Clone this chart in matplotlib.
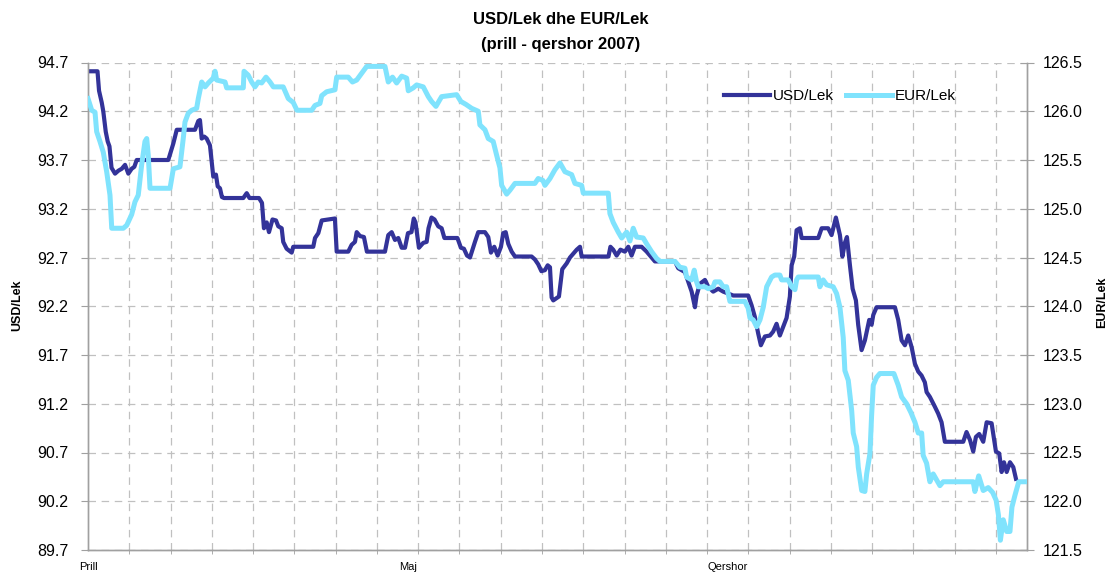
import matplotlib
matplotlib.use("Agg")
import matplotlib.pyplot as plt
from matplotlib.lines import Line2D

plt.rcParams['font.family'] = ['Liberation Sans', 'DejaVu Sans']

# day index (0 = 1 prill, 91 = end of qershor) and rates
usd_day = [0.0, 0.92, 1.07, 1.33, 1.48, 1.72, 1.91, 2.08, 2.28, 2.62, 2.94, 3.27, 3.59, 3.91, 4.23, 4.49, 4.72,
           7.78, 8.27, 8.60, 10.37, 10.69, 10.85, 11.02, 11.27, 11.50, 11.82, 11.99, 12.14, 12.40, 12.57, 12.79,
           12.98, 13.18, 15.05, 15.38, 15.65, 16.57, 16.86, 17.05, 17.32, 17.54, 17.88, 18.22, 18.44, 18.77,
           18.92, 19.25, 19.74, 19.89, 21.83, 22.00, 22.32, 22.65, 23.93, 24.10, 25.22, 25.55, 25.87, 26.04,
           26.36, 26.74, 27.03, 28.78, 29.10, 29.43, 29.75, 30.07, 30.40, 30.72, 31.01, 31.35, 31.57, 31.74,
           32.07, 32.49, 32.82, 33.00, 33.29, 33.58, 33.94, 34.27, 34.54, 35.80, 36.14, 36.43, 36.73, 37.02,
           37.50, 37.82, 38.47, 38.79, 39.05, 39.37, 39.70, 40.02, 40.24, 40.48, 40.73, 41.06, 41.38, 42.99,
           43.31, 43.63, 43.94, 44.28, 44.55, 44.77, 44.93, 45.09, 45.64, 45.96, 46.39, 46.71, 47.03, 47.36,
           47.68, 47.84, 50.44, 50.63, 50.90, 51.23, 51.60, 52.03, 52.36, 52.68, 53.00, 53.65, 54.14, 54.46,
           54.94, 56.88, 57.20, 57.85, 58.17, 58.50, 58.82, 58.98, 59.30, 59.79, 60.11, 60.59, 61.08, 61.56,
           62.05, 62.53, 63.98, 64.31, 64.63, 64.95, 65.21, 65.60, 66.09, 66.40, 66.73, 67.05, 67.37, 67.70,
           68.02, 68.19, 68.44, 68.67, 68.99, 69.16, 70.77, 71.10, 71.73, 72.06, 72.48, 72.87, 73.11, 73.35,
           73.55, 73.84, 74.10, 74.42, 74.64, 74.97, 75.29, 75.71, 75.94, 76.10, 76.42, 78.20, 78.52, 78.85,
           79.17, 79.49, 79.82, 80.14, 80.46, 80.78, 81.10, 81.27, 81.59, 82.07, 82.39, 82.72, 83.04, 84.82,
           85.14, 85.47, 85.79, 86.05, 86.37, 86.76, 87.09, 87.57, 87.99, 88.31, 88.54, 88.77, 89.03, 89.35,
           89.67, 89.93]
usd_lek = [94.61, 94.61, 94.41, 94.29, 94.20, 93.99, 93.89, 93.84, 93.62, 93.56, 93.59, 93.61, 93.65, 93.56,
           93.61, 93.63, 93.70, 93.70, 93.87, 94.01, 94.01, 94.10, 94.11, 93.92, 93.94, 93.92, 93.85, 93.68,
           93.53, 93.55, 93.43, 93.41, 93.32, 93.31, 93.31, 93.36, 93.31, 93.31, 93.26, 93.00, 93.06, 92.96,
           93.09, 93.08, 93.02, 93.00, 92.86, 92.79, 92.75, 92.81, 92.81, 92.90, 92.95, 93.08, 93.10, 92.76,
           92.76, 92.83, 92.86, 92.96, 92.92, 92.91, 92.76, 92.76, 92.93, 92.96, 92.88, 92.90, 92.80, 92.80,
           92.95, 92.96, 93.10, 93.06, 92.80, 92.85, 92.86, 93.00, 93.11, 93.09, 93.02, 93.00, 92.90, 92.90,
           92.80, 92.79, 92.72, 92.70, 92.86, 92.96, 92.96, 92.91, 92.75, 92.81, 92.72, 92.81, 92.95, 92.96,
           92.84, 92.76, 92.71, 92.71, 92.68, 92.63, 92.56, 92.57, 92.62, 92.60, 92.29, 92.26, 92.30, 92.58,
           92.64, 92.70, 92.74, 92.78, 92.81, 92.71, 92.71, 92.81, 92.78, 92.72, 92.78, 92.76, 92.81, 92.72,
           92.81, 92.81, 92.76, 92.72, 92.66, 92.66, 92.59, 92.55, 92.45, 92.35, 92.19, 92.31, 92.43, 92.47,
           92.40, 92.35, 92.38, 92.35, 92.33, 92.31, 92.31, 92.21, 92.09, 91.92, 91.80, 91.89, 91.90, 91.94,
           92.02, 91.90, 91.99, 92.08, 92.30, 92.62, 92.71, 92.98, 93.00, 92.90, 92.90, 93.00, 93.00, 92.93,
           93.11, 92.93, 92.71, 92.85, 92.91, 92.62, 92.38, 92.26, 92.01, 91.75, 91.85, 92.06, 92.01, 92.11,
           92.19, 92.19, 92.06, 91.85, 91.80, 91.90, 91.78, 91.61, 91.53, 91.49, 91.42, 91.32, 91.27, 91.17,
           91.10, 91.01, 90.81, 90.81, 90.91, 90.83, 90.71, 90.86, 90.89, 90.81, 91.01, 91.00, 90.71, 90.69,
           90.50, 90.60, 90.50, 90.60, 90.55, 90.43]

eur_day = [0.0, 0.36, 0.68, 0.84, 1.16, 1.48, 1.81, 2.13, 2.30, 3.42, 3.75, 4.23, 4.55, 4.87, 5.20, 5.52, 5.69,
           5.84, 6.01, 7.95, 8.27, 8.91, 9.23, 9.40, 9.72, 10.05, 10.53, 10.69, 11.02, 11.34, 11.66, 12.14,
           12.31, 12.47, 13.28, 13.44, 15.05, 15.12, 15.53, 15.86, 16.18, 16.50, 16.83, 17.25, 17.64, 17.96,
           18.92, 19.41, 19.89, 20.25, 21.68, 22.00, 22.48, 22.65, 23.13, 23.93, 24.10, 25.22, 25.63, 26.04,
           26.52, 27.01, 28.78, 29.10, 29.51, 29.91, 30.40, 30.88, 31.04, 31.52, 31.85, 32.49, 32.98, 33.30,
           33.72, 34.27, 35.73, 36.14, 36.63, 37.18, 37.82, 37.98, 38.47, 38.79, 39.27, 39.60, 39.92, 40.09,
           40.57, 40.89, 41.38, 43.31, 43.63, 44.09, 44.28, 44.77, 45.25, 45.74, 46.22, 46.87, 47.19, 47.84,
           48.00, 50.42, 50.58, 50.90, 51.39, 51.72, 52.20, 52.52, 52.84, 53.17, 53.81, 54.14, 54.62, 55.11,
           55.43, 56.88, 57.36, 57.85, 58.01, 58.50, 58.75, 58.98, 59.14, 59.79, 60.11, 60.59, 60.76, 61.24,
           61.56, 61.89, 62.21, 63.66, 63.98, 64.15, 64.47, 64.80, 65.12, 65.44, 65.77, 66.25, 66.57, 67.05,
           67.22, 67.86, 68.19, 68.51, 68.67, 68.83, 70.77, 70.93, 71.25, 71.58, 72.22, 72.55, 72.87, 73.19,
           73.35, 73.68, 74.01, 74.16, 74.49, 74.65, 74.98, 75.29, 75.46, 75.78, 75.94, 76.10, 76.42, 76.74,
           78.10, 78.52, 78.85, 79.33, 79.75, 80.14, 80.46, 80.79, 80.94, 81.27, 81.59, 81.91, 82.24, 82.56,
           82.88, 85.79, 85.95, 86.32, 86.76, 87.24, 87.67, 88.01, 88.23, 88.42, 88.70, 89.03, 89.35, 89.54,
           89.83, 90.20, 91.0]
eur_lek = [126.13, 126.01, 125.99, 125.79, 125.69, 125.58, 125.38, 125.14, 124.80, 124.80, 124.83, 124.94,
           125.07, 125.14, 125.45, 125.69, 125.72, 125.55, 125.21, 125.21, 125.41, 125.43, 125.72, 125.89,
           125.98, 126.01, 126.03, 126.13, 126.30, 126.25, 126.29, 126.34, 126.41, 126.32, 126.30, 126.24,
           126.24, 126.41, 126.37, 126.30, 126.25, 126.30, 126.29, 126.35, 126.30, 126.25, 126.25, 126.13,
           126.09, 126.01, 126.01, 126.06, 126.08, 126.16, 126.20, 126.22, 126.35, 126.35, 126.30, 126.32,
           126.39, 126.46, 126.46, 126.30, 126.35, 126.29, 126.36, 126.34, 126.21, 126.24, 126.27, 126.25,
           126.15, 126.10, 126.05, 126.15, 126.17, 126.10, 126.07, 126.03, 126.00, 125.86, 125.81, 125.72,
           125.69, 125.55, 125.42, 125.24, 125.15, 125.19, 125.26, 125.26, 125.31, 125.29, 125.24, 125.31,
           125.40, 125.47, 125.38, 125.35, 125.26, 125.24, 125.16, 125.16, 124.95, 124.86, 124.76, 124.70,
           124.76, 124.67, 124.80, 124.71, 124.70, 124.64, 124.56, 124.49, 124.46, 124.46, 124.40, 124.39,
           124.30, 124.27, 124.37, 124.25, 124.20, 124.20, 124.18, 124.20, 124.25, 124.25, 124.20, 124.20,
           124.05, 124.05, 123.98, 123.88, 123.86, 123.79, 123.86, 123.99, 124.20, 124.30, 124.32, 124.32,
           124.27, 124.27, 124.20, 124.17, 124.27, 124.30, 124.30, 124.20, 124.27, 124.22, 124.20, 124.13,
           123.99, 123.68, 123.34, 123.24, 122.93, 122.70, 122.56, 122.35, 122.11, 122.10, 122.28, 122.49,
           122.88, 123.19, 123.27, 123.31, 123.31, 123.19, 123.07, 123.00, 122.91, 122.81, 122.70, 122.70,
           122.47, 122.39, 122.20, 122.28, 122.22, 122.16, 122.20, 122.20, 122.10, 122.26, 122.11, 122.14,
           122.09, 122.01, 121.86, 121.60, 121.81, 121.69, 121.69, 121.94, 122.06, 122.20, 122.20]

month_pos = [0, 31, 62]
month_labels = ['Prill', 'Maj', 'Qershor']
usd_ticks = [89.7, 90.2, 90.7, 91.2, 91.7, 92.2, 92.7, 93.2, 93.7, 94.2, 94.7]
eur_ticks = [121.5, 122.0, 122.5, 123.0, 123.5, 124.0, 124.5, 125.0, 125.5, 126.0, 126.5]

USD_COLOR = '#333399'
EUR_COLOR = '#80E3FD'
GRID = '#c0c0c0'
SPINE = '#a0a0a0'

fig = plt.figure(figsize=(11.11, 5.72), dpi=100)
ax = fig.add_axes([88 / 1111, 22 / 572, 939 / 1111, 487.5 / 572])
ax2 = ax.twinx()

ax.plot(usd_day, usd_lek, color=USD_COLOR, lw=3.0, solid_joinstyle='round', zorder=3)
ax2.plot(eur_day, eur_lek, color=EUR_COLOR, lw=3.6, solid_joinstyle='round', zorder=3)

ax.set_xlim(0, 91)
ax.set_ylim(89.7, 94.7)
ax2.set_ylim(121.5, 126.5)

ax.set_yticks(usd_ticks)
ax.set_yticklabels([f'{v:.1f}' for v in usd_ticks])
ax2.set_yticks(eur_ticks)
ax2.set_yticklabels([f'{v:.1f}' for v in eur_ticks])

ax.set_xticks(month_pos)
ax.set_xticklabels(month_labels)
ax.set_xticks(list(range(0, 89, 4)), minor=True)
ax.tick_params(axis='x', which='major', length=0, pad=9, labelsize=8)
ax.tick_params(axis='x', which='minor', length=3, direction='out', color=SPINE)
ax.tick_params(axis='y', which='major', length=5, direction='out', color=SPINE, labelsize=11.5, pad=9)
ax2.tick_params(axis='y', which='major', length=10, direction='inout', color=SPINE, labelsize=11.5, pad=6)

ax.grid(axis='y', which='major', color=GRID, lw=0.9, linestyle=(0, (6, 4.5)))
ax.grid(axis='x', which='minor', color=GRID, lw=0.9, linestyle=(0, (6, 4.5)))
ax.set_axisbelow(True)

for a in (ax, ax2):
    a.spines['top'].set_visible(False)
    for s in ('left', 'right', 'bottom'):
        a.spines[s].set_color(SPINE)
        a.spines[s].set_linewidth(1.0)

fig.text(17 / 1111, 1 - 305 / 572, 'USD/Lek', rotation=90, ha='center', va='center',
         fontsize=9, fontweight='bold')
fig.text(1102 / 1111, 1 - 302 / 572, 'EUR/Lek', rotation=90, ha='center', va='center',
         fontsize=9, fontweight='bold')

fig.text(561 / 1111, 1 - 20 / 572, 'USD/Lek dhe EUR/Lek', ha='center', va='center',
         fontsize=12, fontweight='bold')
fig.text(561 / 1111, 1 - 44 / 572, '(prill - qershor 2007)', ha='center', va='center',
         fontsize=12, fontweight='bold')

handles = [Line2D([], [], color=USD_COLOR, lw=3.0), Line2D([], [], color=EUR_COLOR, lw=3.6)]
ax2.legend(handles, ['USD/Lek', 'EUR/Lek'], ncol=2, frameon=False, fontsize=11,
           loc='center', bbox_to_anchor=(840 / 1111, 1 - 96 / 572), bbox_transform=fig.transFigure,
           handlelength=3.0, handletextpad=0.15, columnspacing=0.85)

fig.savefig('out.png', dpi=100)
